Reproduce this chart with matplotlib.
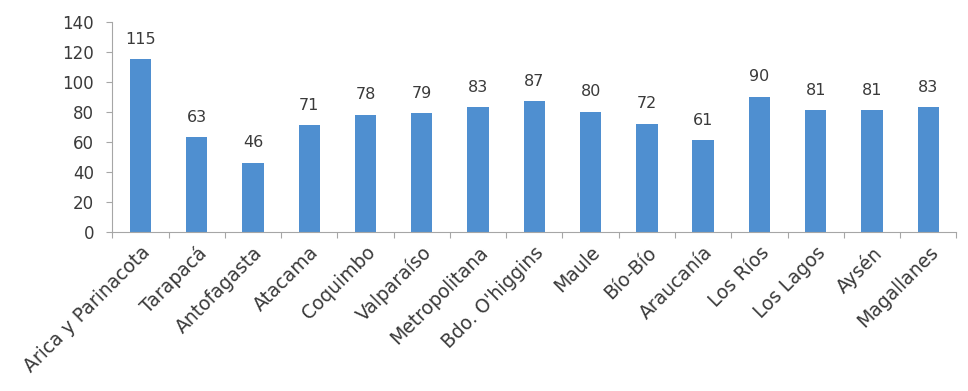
import matplotlib.pyplot as plt
import numpy as np

# ==========================================================
# Data
# ==========================================================

regions = [
    "Arica y Parinacota", "Tarapacá", "Antofagasta", "Atacama", "Coquimbo",
    "Valparaíso", "Metropolitana", "Bdo. O'higgins", "Maule", "Bío-Bío",
    "Araucanía", "Los Ríos", "Los Lagos", "Aysén", "Magallanes",
]
values = [115, 63, 46, 71, 78, 79, 83, 87, 80, 72, 61, 90, 81, 81, 83]
y_ticks = [0, 20, 40, 60, 80, 100, 120, 140]

# ==========================================================
# Plot
# ==========================================================

plt.rcParams["font.family"] = ["DejaVu Sans"]
text_color = "#3a3a3a"
axis_color = "#a6a6a6"

fig = plt.figure(figsize=(9.68, 3.91), dpi=100)
ax = fig.add_axes([0.116, 0.407, 0.872, 0.537])

x = np.arange(len(regions))
bars = ax.bar(x, values, width=0.38, color="#4f8fd0")

for xi, v in zip(x, values):
    ax.annotate(str(v), (xi, v), xytext=(0, 9), textcoords="offset points",
                ha="center", va="bottom", fontsize=11.5, color=text_color)

ax.set_xlim(-0.5, len(regions) - 0.5)
ax.set_ylim(0, 140)
ax.set_yticks(y_ticks)
ax.tick_params(axis="y", labelsize=12, colors=axis_color, labelcolor=text_color,
               length=4, pad=9)

# ticks at category boundaries, labels at centres
ax.set_xticks(np.arange(len(regions) + 1) - 0.5)
ax.set_xticklabels([])
ax.set_xticks(x, minor=True)
ax.set_xticklabels(regions, minor=True, rotation=45, ha="right",
                   rotation_mode="anchor", fontsize=13.5, color=text_color)
ax.tick_params(axis="x", which="major", length=4, colors=axis_color)
ax.tick_params(axis="x", which="minor", length=0, pad=8)

for side in ["top", "right"]:
    ax.spines[side].set_visible(False)
for side in ["left", "bottom"]:
    ax.spines[side].set_color(axis_color)

fig.savefig("out.png", dpi=100)
